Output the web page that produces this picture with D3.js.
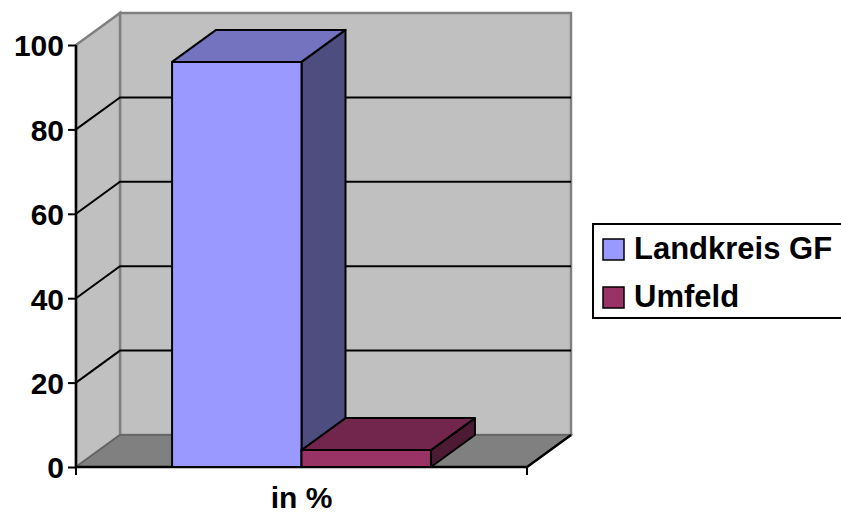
<!DOCTYPE html>
<html>
<head>
<meta charset="utf-8">
<script src="https://cdn.jsdelivr.net/npm/d3@7"></script>
<style>
  html, body { margin: 0; padding: 0; background: #ffffff; }
  svg { display: block; }
  text { font-family: "Liberation Sans", Arial, sans-serif; font-weight: bold; fill: #000; }
</style>
</head>
<body>
<svg id="chart" width="841" height="515"></svg>
<script>
// Chart data
const categories = ["in %"];
const seriesNames = ["Landkreis GF", "Umfeld"];
const seriesValues = [96, 4];
const seriesColors = ["#9999ff", "#993366"];
const yTicks = [0, 20, 40, 60, 80, 100];

const svg = d3.select("#chart");

// Front plane of the 3D box and the depth offset of the back plane
const plot = { left: 76, right: 527, top: 45, bottom: 467 };
const depth = { dx: 44, dy: -32 };

const y = d3.scaleLinear().domain([0, 100]).range([plot.bottom, plot.top]);
const x = d3.scaleBand().domain(categories).range([plot.left, plot.right]).paddingInner(0).paddingOuter(0);
const xs = d3.scaleBand().domain(seriesNames)
  .range([x(categories[0]) + x.bandwidth() * 0.213, x(categories[0]) + x.bandwidth() * 0.787]);

const pts = arr => arr.map(p => p.join(",")).join(" ");
const back = (px, py) => [px + depth.dx, py + depth.dy];

// Walls
const bx0 = plot.left + depth.dx, bx1 = plot.right + depth.dx;
const byTop = y(100) + depth.dy, byBot = y(0) + depth.dy;

// back wall
svg.append("polygon")
  .attr("points", pts([[bx0, byTop], [bx1, byTop], [bx1, byBot], [bx0, byBot]]))
  .attr("fill", "#c0c0c0").attr("stroke", "#808080").attr("stroke-width", 2.5);

// side wall
svg.append("polygon")
  .attr("points", pts([[plot.left, y(100)], back(plot.left, y(100)), back(plot.left, y(0)), [plot.left, y(0)]]))
  .attr("fill", "#c0c0c0").attr("stroke", "#808080").attr("stroke-width", 2.5);

// floor
svg.append("polygon")
  .attr("points", pts([[plot.left, y(0)], [plot.right, y(0)], back(plot.right, y(0)), back(plot.left, y(0))]))
  .attr("fill", "#808080").attr("stroke", "#606060").attr("stroke-width", 1.5);

// Gridlines on side and back walls
const grid = yTicks.filter(t => t > 0 && t < 100);
const g = svg.append("g").attr("stroke", "#000").attr("stroke-width", 2).attr("fill", "none");
grid.forEach(t => {
  g.append("polyline")
    .attr("points", pts([[plot.left, y(t)], back(plot.left, y(t)), back(plot.right, y(t))]));
});

// Floor front and right edges
svg.append("polyline")
  .attr("points", pts([[plot.left, y(0)], [plot.right, y(0)], back(plot.right, y(0))]))
  .attr("fill", "none").attr("stroke", "#000").attr("stroke-width", 2.5);

// Bars (drawn left to right so the right bar covers the left bar's side)
function shade(c, k) {
  const r = d3.rgb(c);
  return d3.rgb(r.r * k, r.g * k, r.b * k).formatHex();
}
seriesNames.forEach((name, i) => {
  const v = seriesValues[i];
  const x0 = xs(name), x1 = xs(name) + xs.bandwidth();
  const y0 = y(0), y1 = y(v);
  const bar = svg.append("g").attr("stroke", "#000").attr("stroke-width", 2).attr("stroke-linejoin", "round");
  // side
  bar.append("polygon")
    .attr("points", pts([[x1, y1], back(x1, y1), back(x1, y0), [x1, y0]]))
    .attr("fill", shade(seriesColors[i], 0.5));
  // top
  bar.append("polygon")
    .attr("points", pts([[x0, y1], [x1, y1], back(x1, y1), back(x0, y1)]))
    .attr("fill", shade(seriesColors[i], 0.75));
  // front
  bar.append("rect")
    .attr("x", x0).attr("y", y1).attr("width", x1 - x0).attr("height", y0 - y1)
    .attr("fill", seriesColors[i]);
});

// Value axis
const axis = d3.axisLeft(y).tickValues(yTicks).tickSize(8).tickPadding(4);
const ax = svg.append("g").attr("transform", `translate(${plot.left},0)`).call(axis);
ax.select(".domain").attr("stroke", "#000").attr("stroke-width", 2.5).attr("d", `M0,${y(100)}V${y(0)}`);
ax.selectAll(".tick line").attr("stroke", "#000").attr("stroke-width", 2);
ax.selectAll(".tick text")
  .attr("font-size", 30).attr("font-family", "Liberation Sans, Arial, sans-serif")
  .attr("font-weight", "bold").attr("fill", "#000").attr("dy", "0.36em");

// Category axis ticks below the floor edge
[plot.left, plot.right].forEach(px => {
  svg.append("line").attr("x1", px).attr("x2", px).attr("y1", y(0)).attr("y2", y(0) + 8)
    .attr("stroke", "#000").attr("stroke-width", 2);
});
svg.append("text")
  .attr("x", x(categories[0]) + x.bandwidth() / 2).attr("y", 508)
  .attr("text-anchor", "middle").attr("font-size", 30)
  .text(categories[0]);

// Legend
const legend = svg.append("g");
legend.append("rect")
  .attr("x", 593).attr("y", 224).attr("width", 260).attr("height", 94)
  .attr("fill", "#fff").attr("stroke", "#000").attr("stroke-width", 2);
seriesNames.forEach((name, i) => {
  const ly = 239 + i * 48;
  legend.append("rect")
    .attr("x", 603).attr("y", ly).attr("width", 21).attr("height", 21)
    .attr("fill", seriesColors[i]).attr("stroke", "#000").attr("stroke-width", 1.5);
  legend.append("text")
    .attr("x", 634).attr("y", ly + 20).attr("font-size", 31)
    .text(name);
});
</script>
</body>
</html>
